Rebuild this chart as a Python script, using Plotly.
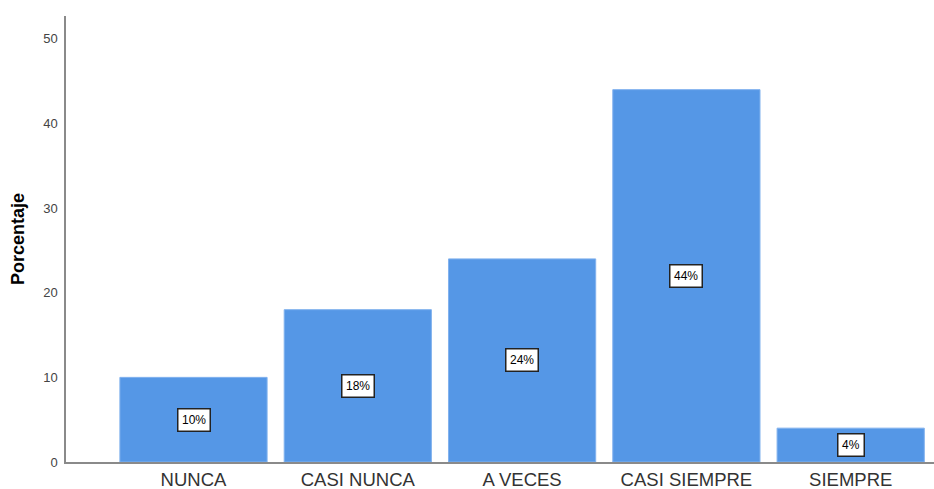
import plotly.graph_objects as go

categories = ["NUNCA", "CASI NUNCA", "A VECES", "CASI SIEMPRE", "SIEMPRE"]
percentages = [10, 18, 24, 44, 4]
labels = ["10%", "18%", "24%", "44%", "4%"]
y_ticks = [0, 10, 20, 30, 40, 50]

fig = go.Figure()
fig.add_trace(go.Bar(
    x=categories, y=percentages,
    marker=dict(color="#5597E6", line=dict(color="#82B2EE", width=1)),
    hoverinfo="skip",
))

for c, v, t in zip(categories, percentages, labels):
    fig.add_annotation(
        x=c, y=v / 2, text=t, showarrow=False,
        font=dict(family="Arial, Liberation Sans", size=12, color="#000"),
        bgcolor="white", bordercolor="#222", borderwidth=1.5, borderpad=3.5,
    )

fig.update_layout(
    width=934, height=489,
    margin=dict(l=66, r=0, t=16, b=27),
    paper_bgcolor="white", plot_bgcolor="white",
    bargap=0.104,
    showlegend=False,
    font=dict(family="Arial, Liberation Sans"),
    xaxis=dict(
        range=[-0.776, 4.507],
        automargin=False,
        showline=True, linecolor="#8a8a8a", linewidth=1.5,
        showgrid=False, ticks="",
        ticklabelstandoff=0,
        tickfont=dict(size=18.5, color="#333"),
    ),
    yaxis=dict(
        range=[0, 52.7],
        automargin=False,
        tickvals=y_ticks,
        showline=True, linecolor="#8a8a8a", linewidth=1.5,
        showgrid=False, zeroline=False, ticks="",
        ticklabelstandoff=4,
        tickfont=dict(size=13, color="#444"),
        title=dict(text="<b>Porcentaje</b>", font=dict(size=18, color="#000"), standoff=14),
    ),
)

fig.write_html("out.html")
